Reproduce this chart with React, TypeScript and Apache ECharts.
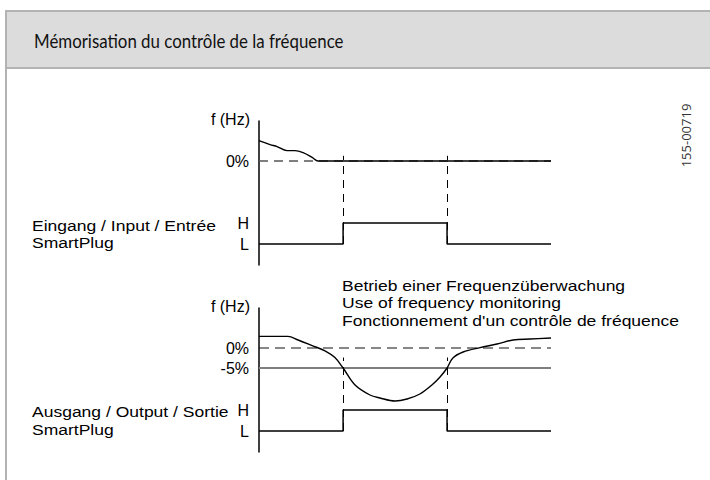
import React, { useEffect, useRef } from 'react';
import * as echarts from 'echarts';

// ---- texts ----
const titleText = 'Mémorisation du contrôle de la fréquence';
const docCode = '155-00719';
const freqAxisName = 'f (Hz)';
const inputLabel = ['Eingang / Input / Entrée', 'SmartPlug'];
const outputLabel = ['Ausgang / Output / Sortie', 'SmartPlug'];
const noteLines = [
  'Betrieb einer Frequenzüberwachung',
  'Use of frequency monitoring',
  "Fonctionnement d'un contrôle de fréquence",
];
const levelLabels = ['L', 'H'];
const upperFreqTicks = [0];
const lowerFreqTicks = [0, -5];

// ---- data (time in % of the plotted span, frequency in % deviation) ----
const switchTimes = [28.8, 64.4];
const inputLevels = [0, 1, 0];
const outputLevels = [0, 1, 0];

const upperFreqTime = [0, 3.8, 6.2, 9.6, 12.3, 15.1, 18.2, 20.2, 24, 100];
const upperFreqPct = [5.1, 4.1, 3.6, 2.6, 2.6, 2.1, 0.9, 0, 0, 0];

const lowerFreqTime = [0, 9.9, 13.4, 18.2, 22.6, 26.0, 28.8, 32.9, 38.0, 41.4, 46.6, 50.7, 55.1, 59.2, 62.0, 64.4, 66.4, 69.9, 75.7, 81.5, 87.0, 92.8, 100];
const lowerFreqPct = [2.9, 2.9, 2.0, 0.6, -0.7, -2.4, -5, -9.25, -11.75, -12.5, -13.25, -12.75, -11.5, -9.25, -7.25, -5, -2.5, -1, 0.1, 1, 2, 2.25, 2.5];

const referencePct = 0;
const thresholdPct = -5;
const upperGuideTop = 4.2;
const lowerGuideTop = 3.5;

const timeMin = 0;
const timeMax = 100;

const labelFont = '"Liberation Sans", Arial, sans-serif';

function freqAxis(gridIndex: number, ticks: number[]) {
  return {
    type: 'value',
    gridIndex,
    position: 'left',
    min: -26,
    max: 10,
    name: freqAxisName,
    nameLocation: 'end',
    nameGap: 2,
    nameTextStyle: {
      fontFamily: labelFont,
      fontSize: 16,
      color: '#000',
      align: 'right',
      verticalAlign: 'middle',
      padding: [0, 9, 0, 0],
    },
    axisLine: { show: true, onZero: false, lineStyle: { color: '#000', width: 1.5 } },
    axisTick: { show: false },
    splitLine: { show: false },
    axisLabel: {
      customValues: ticks,
      formatter: (v: number) => `${v}%`,
      fontFamily: labelFont,
      fontSize: 16,
      color: '#000',
      margin: 10,
    },
  };
}

function levelAxis(gridIndex: number) {
  return {
    type: 'value',
    gridIndex,
    position: 'left',
    min: -1,
    max: 144 / 21 - 1,
    axisLine: { show: false },
    axisTick: { show: false },
    splitLine: { show: false },
    axisLabel: {
      customValues: [0, 1],
      formatter: (v: number) => levelLabels[v] ?? '',
      fontFamily: labelFont,
      fontSize: 16,
      color: '#000',
      margin: 10,
    },
  };
}

function stepData(levels: number[]) {
  return [
    [timeMin, levels[0]],
    [switchTimes[0], levels[1]],
    [switchTimes[1], levels[2]],
    [timeMax, levels[2]],
  ];
}

function guides(top: number) {
  return switchTimes.map((t) => [{ coord: [t, 0] }, { coord: [t, top] }]);
}

function buildOption() {
  const upperCurve = upperFreqTime.map((t, i) => [t, upperFreqPct[i]]);
  const lowerCurve = lowerFreqTime.map((t, i) => [t, lowerFreqPct[i]]);
  const base = { type: 'line', symbol: 'none', silent: true };
  return {
    animation: false,
    backgroundColor: '#ffffff',
    grid: [
      { left: 259, top: 121, width: 292, height: 144 },
      { left: 259, top: 308, width: 292, height: 144 },
    ],
    xAxis: [
      { type: 'value', gridIndex: 0, min: timeMin, max: timeMax, show: false },
      { type: 'value', gridIndex: 1, min: timeMin, max: timeMax, show: false },
    ],
    yAxis: [freqAxis(0, upperFreqTicks), levelAxis(0), freqAxis(1, lowerFreqTicks), levelAxis(1)],
    series: [
      {
        ...base,
        name: 'ref0',
        xAxisIndex: 0,
        yAxisIndex: 0,
        data: [[timeMin, referencePct], [timeMax, referencePct]],
        lineStyle: { color: '#555', width: 1.3, type: [9, 6] },
      },
      {
        ...base,
        name: 'upperFreq',
        xAxisIndex: 0,
        yAxisIndex: 0,
        smooth: 0.35,
        data: upperCurve,
        lineStyle: { color: '#000', width: 1.4 },
      },
      {
        ...base,
        name: 'input',
        xAxisIndex: 0,
        yAxisIndex: 1,
        step: 'end',
        data: stepData(inputLevels),
        lineStyle: { color: '#000', width: 1.5 },
        markLine: {
          silent: true,
          symbol: 'none',
          label: { show: false },
          lineStyle: { color: '#000', width: 1, type: [8, 6] },
          data: guides(upperGuideTop),
        },
      },
      {
        ...base,
        name: 'ref1',
        xAxisIndex: 1,
        yAxisIndex: 2,
        data: [[timeMin, referencePct], [timeMax, referencePct]],
        lineStyle: { color: '#111', width: 1.2, type: [10, 6] },
      },
      {
        ...base,
        name: 'threshold',
        xAxisIndex: 1,
        yAxisIndex: 2,
        data: [[timeMin, thresholdPct], [timeMax, thresholdPct]],
        lineStyle: { color: '#7f7f7f', width: 2 },
      },
      {
        ...base,
        name: 'lowerFreq',
        xAxisIndex: 1,
        yAxisIndex: 2,
        smooth: 0.35,
        data: lowerCurve,
        lineStyle: { color: '#000', width: 1.4 },
      },
      {
        ...base,
        name: 'output',
        xAxisIndex: 1,
        yAxisIndex: 3,
        step: 'end',
        data: stepData(outputLevels),
        lineStyle: { color: '#000', width: 1.5 },
        markLine: {
          silent: true,
          symbol: 'none',
          label: { show: false },
          lineStyle: { color: '#000', width: 1, type: [8, 6] },
          data: guides(lowerGuideTop),
        },
      },
    ],
    graphic: [
      { type: 'rect', silent: true, shape: { x: 6, y: 11, width: 704, height: 57 }, style: { fill: '#dcdcdc' } },
      { type: 'line', silent: true, shape: { x1: 5, y1: 11, x2: 710, y2: 11 }, style: { stroke: '#b3b3b3', lineWidth: 2 } },
      { type: 'line', silent: true, shape: { x1: 5, y1: 68, x2: 710, y2: 68 }, style: { stroke: '#b3b3b3', lineWidth: 2 } },
      { type: 'line', silent: true, shape: { x1: 6, y1: 10, x2: 6, y2: 480 }, style: { stroke: '#b3b3b3', lineWidth: 2 } },
      {
        type: 'text',
        silent: true,
        x: 34,
        y: 41,
        scaleX: 0.865,
        style: { text: titleText, fontFamily: 'Lato, "Open Sans", sans-serif', fontSize: 19.5, fill: '#111', verticalAlign: 'middle' },
      },
      {
        type: 'text',
        silent: true,
        x: 686,
        y: 135.5,
        rotation: Math.PI / 2,
        style: { text: docCode, fontFamily: '"Open Sans", sans-serif', fontSize: 13, fill: '#333', align: 'center', verticalAlign: 'middle' },
      },
      {
        type: 'text',
        silent: true,
        x: 32,
        y: 216.2,
        scaleX: 1.167,
        style: { text: inputLabel.join('\n'), fontFamily: labelFont, fontSize: 15, lineHeight: 17.7, fill: '#000', verticalAlign: 'top' },
      },
      {
        type: 'text',
        silent: true,
        x: 32,
        y: 402.3,
        scaleX: 1.167,
        style: { text: outputLabel.join('\n'), fontFamily: labelFont, fontSize: 15, lineHeight: 18, fill: '#000', verticalAlign: 'top' },
      },
      {
        type: 'text',
        silent: true,
        x: 342,
        y: 276.5,
        scaleX: 1.167,
        style: { text: noteLines.join('\n'), fontFamily: labelFont, fontSize: 15, lineHeight: 17.5, fill: '#000', verticalAlign: 'top' },
      },
    ],
  };
}

export default function App() {
  const ref = useRef<HTMLDivElement>(null);
  useEffect(() => {
    if (!ref.current) return;
    const chart = echarts.init(ref.current, undefined, { renderer: 'svg' });
    chart.setOption(buildOption() as any);
    return () => chart.dispose();
  }, []);
  return (
    <div
      ref={ref}
      style={{ position: 'fixed', left: 0, top: 0, width: 710, height: 480, background: '#fff' }}
    />
  );
}
